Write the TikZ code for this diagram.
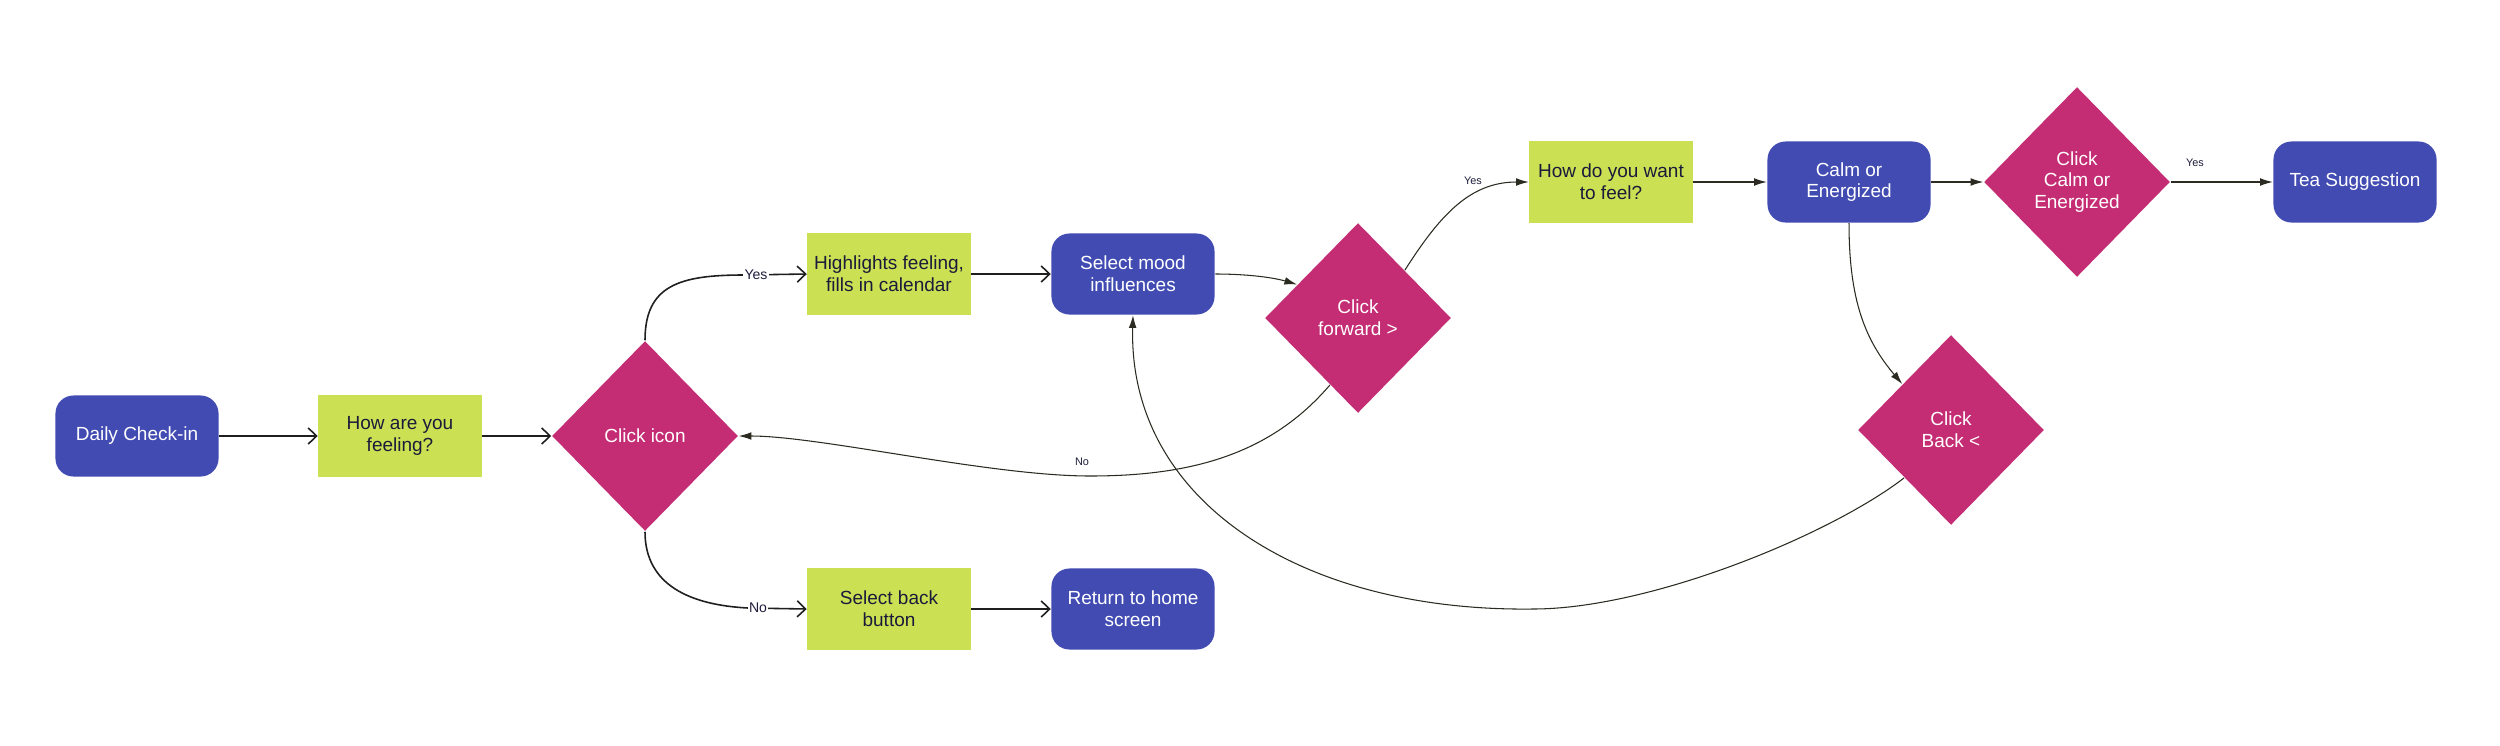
\documentclass[tikz,border=0pt]{standalone}
\usepackage{fontspec}
\setmainfont{Liberation Sans}
\usetikzlibrary{shapes.geometric,arrows.meta,calc}
\definecolor{cblue}{HTML}{414BB2}
\definecolor{cgreen}{HTML}{CBE153}
\definecolor{cpink}{HTML}{C42C74}
\definecolor{ctext}{HTML}{1A1A3A}
\definecolor{clabel}{HTML}{1E1E3C}
\definecolor{clineA}{HTML}{1F1F1F}
\definecolor{clineB}{HTML}{2B2B22}
\newcommand\boxfont{\fontsize{5.4}{6.2}\selectfont}
\begin{document}
\begin{tikzpicture}[x=0.01cm,y=-0.01cm,
  basebox/.style={minimum width=1.63cm,minimum height=0.81cm,inner sep=0pt,align=center,font=\boxfont},
  bluebox/.style={basebox,fill=cblue,rounded corners=0.18cm,text=white},
  greenbox/.style={basebox,fill=cgreen,text=ctext},
  decision/.style={diamond,fill=cpink,text=white,minimum width=1.86cm,minimum height=1.9cm,inner sep=0pt,align=center,font=\boxfont},
  openarr/.style={draw=clineA,line width=0.45pt,-{Straight Barb[length=2.4pt,width=4.6pt]}},
  filarr/.style={draw=clineB,line width=0.3pt,-{Latex[length=3.6pt,width=2.2pt]}},
  lblbig/.style={font=\fontsize{4}{4.5}\selectfont,text=clabel,fill=white,inner sep=0.4pt},
  lblsmall/.style={font=\fontsize{3.1}{3.6}\selectfont,text=clabel,inner sep=0pt}]
\fill[white] (0,0) rectangle (2500,745);
\useasboundingbox (0,0) rectangle (2500,745);

% nodes
\node[bluebox]  (dc) at (137,436) {Daily Check-in};
\node[greenbox] (hf) at (400,436) {How are you\\feeling?};
\node[decision] (ci) at (645,436) {Click icon};
\node[greenbox] (hl) at (889,274) {Highlights feeling,\\fills in calendar};
\node[bluebox]  (sm) at (1133,274) {Select mood\\influences};
\node[decision] (cf) at (1358,318) {Click\\forward >};
\node[greenbox] (hw) at (1611,182) {How do you want\\to feel?};
\node[bluebox]  (ce) at (1849,182) {Calm or\\Energized};
\node[decision] (cc) at (2077,182) {Click\\Calm or\\Energized};
\node[bluebox]  (ts) at (2355,182) {Tea Suggestion};
\node[decision] (cb) at (1951,430) {Click\\Back <};
\node[greenbox] (sb) at (889,609) {Select back\\button};
\node[bluebox]  (rh) at (1133,609) {Return to home\\screen};

% left connectors
\draw[openarr] (dc.east) -- (hf.west);
\draw[openarr] (hf.west -| hf.east) -- (ci.west);
\draw[openarr] (hl.east) -- (sm.west);
\draw[openarr] (sb.east) -- (rh.west);
\draw[openarr] (ci.north) .. controls (645,285) and (680,275) .. (744,275) -- (hl.west);
\draw[openarr] (ci.south) .. controls (645,585) and (690,605) .. (748,608) -- (sb.west);

% right connectors
\coordinate (cfin)  at ($(cf.west)!0.35!(cf.north)$);
\coordinate (cfout) at ($(cf.north)!0.5!(cf.east)$);
\coordinate (cfno)  at ($(cf.west)!0.7!(cf.south)$);
\coordinate (cbin)  at ($(cb.west)!0.48!(cb.north)$);
\coordinate (cbout) at ($(cb.west)!0.5!(cb.south)$);

\draw[filarr] (sm.east) .. controls (1250,274) and (1275,278) .. (cfin);
\draw[filarr] (cfout) .. controls (1440,215) and (1470,182) .. (hw.west);
\draw[filarr] (cfno) .. controls (1270,455) and (1190,476) .. (1090,476)
   .. controls (990,476) and (820,436) .. (ci.east);
\draw[filarr] (hw.east) -- (ce.west);
\draw[filarr] (ce.east) -- (cc.west);
\draw[filarr] (cc.east) -- (ts.west);
\draw[filarr] (ce.south) .. controls (1849,300) and (1865,340) .. (cbin);
\draw[filarr] (cbout) .. controls (1830,535) and (1650,609) .. (1533,609)
   .. controls (1300,612) and (1128,500) .. (sm.south);

% labels
\node[lblbig] (lyes) at (756,275) {Yes};
\node[lblbig] (lno)  at (758,608) {No};
\node[lblsmall] (lyes2) at (1473,181) {Yes};
\node[lblsmall] (lno2)  at (1082,462) {No};
\node[lblsmall] (lyes3) at (2195,163) {Yes};
\end{tikzpicture}
\end{document}
